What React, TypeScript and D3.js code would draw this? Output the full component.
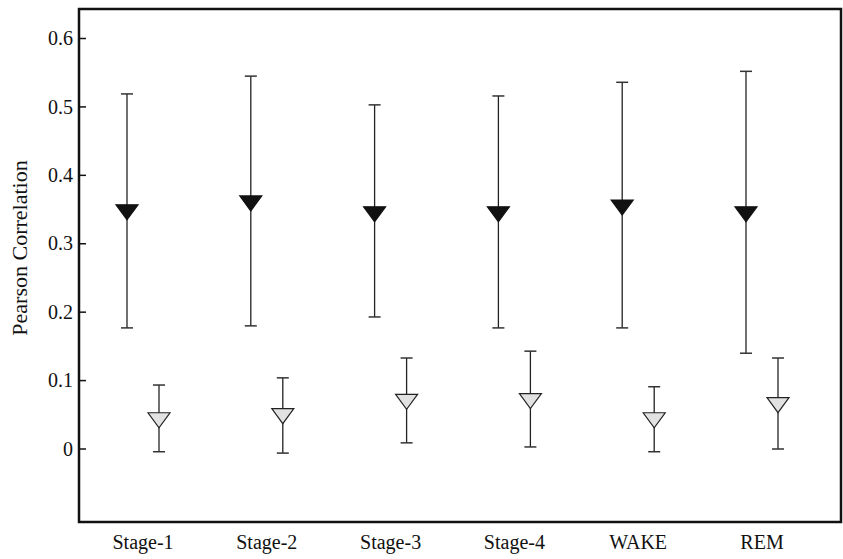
import React from "react";
import * as d3 from "d3";

const categories = ["Stage-1", "Stage-2", "Stage-3", "Stage-4", "WAKE", "REM"];
const highMean = [0.346, 0.359, 0.343, 0.343, 0.353, 0.343];
const highUpper = [0.519, 0.545, 0.503, 0.516, 0.536, 0.552];
const highLower = [0.177, 0.18, 0.193, 0.177, 0.177, 0.14];
const lowMean = [0.042, 0.048, 0.069, 0.07, 0.042, 0.064];
const lowUpper = [0.0935, 0.104, 0.133, 0.143, 0.091, 0.133];
const lowLower = [-0.004, -0.006, 0.009, 0.003, -0.004, 0.0];
const yTicks = [0, 0.1, 0.2, 0.3, 0.4, 0.5, 0.6];
const yTickLabels = ["0", "0.1", "0.2", "0.3", "0.4", "0.5", "0.6"];
const yLabel = "Pearson Correlation";

const W = 843;
const H = 559;
const frame = { left: 79, top: 9, right: 841, bottom: 522 };
const FONT = "'Liberation Serif', 'Times New Roman', serif";

export default function App() {
  const y = d3.scaleLinear().domain([0, 0.6]).range([449, 38.5]);
  const x = d3.scalePoint<string>().domain(categories).range([143, 762]);
  const off = 16;
  const cap = 6;
  const tri = (cx: number, cy: number) => {
    const p = d3.path();
    p.moveTo(cx - 11, cy - 7.5);
    p.lineTo(cx + 11, cy - 7.5);
    p.lineTo(cx, cy + 7.5);
    p.closePath();
    return p.toString();
  };
  const series = [
    { mean: highMean, up: highUpper, lo: highLower, dx: -off, fill: "#111", stroke: "#111" },
    { mean: lowMean, up: lowUpper, lo: lowLower, dx: off, fill: "#e2e2e2", stroke: "#222" },
  ];
  return (
    <svg width={W} height={H} style={{ position: "absolute", left: 0, top: 0, background: "#fff" }}>
      <rect x={0} y={0} width={W} height={H} fill="#fff" />
      {series.map((s, si) =>
        categories.map((c, i) => {
          const cx = (x(c) as number) + s.dx;
          return (
            <g key={`${si}-${i}`}>
              <line x1={cx} x2={cx} y1={y(s.up[i])} y2={y(s.lo[i])} stroke="#222" strokeWidth={1.3} />
              <line x1={cx - cap} x2={cx + cap} y1={y(s.up[i])} y2={y(s.up[i])} stroke="#333" strokeWidth={1.5} />
              <line x1={cx - cap} x2={cx + cap} y1={y(s.lo[i])} y2={y(s.lo[i])} stroke="#333" strokeWidth={1.5} />
              <path d={tri(cx, y(s.mean[i]))} fill={s.fill} stroke={s.stroke} strokeWidth={1.2} />
            </g>
          );
        })
      )}
      <rect
        x={frame.left}
        y={frame.top}
        width={frame.right - frame.left}
        height={frame.bottom - frame.top}
        fill="none"
        stroke="#111"
        strokeWidth={2.5}
      />
      {yTicks.map((t, i) => (
        <g key={t}>
          <line x1={frame.left} x2={frame.left + 7} y1={y(t)} y2={y(t)} stroke="#111" strokeWidth={1.5} />
          <text
            x={frame.left - 6}
            y={y(t)}
            dy="0.33em"
            textAnchor="end"
            fontFamily={FONT}
            fontSize={20}
            fill="#111"
          >
            {yTickLabels[i]}
          </text>
        </g>
      ))}
      {categories.map((c) => (
        <text key={c} x={x(c)} y={549} textAnchor="middle" fontFamily={FONT} fontSize={20} fill="#111">
          {c}
        </text>
      ))}
      <text
        transform={`translate(27, 248) rotate(-90)`}
        textAnchor="middle"
        fontFamily={FONT}
        fontSize={22}
        fill="#111"
      >
        {yLabel}
      </text>
    </svg>
  );
}
